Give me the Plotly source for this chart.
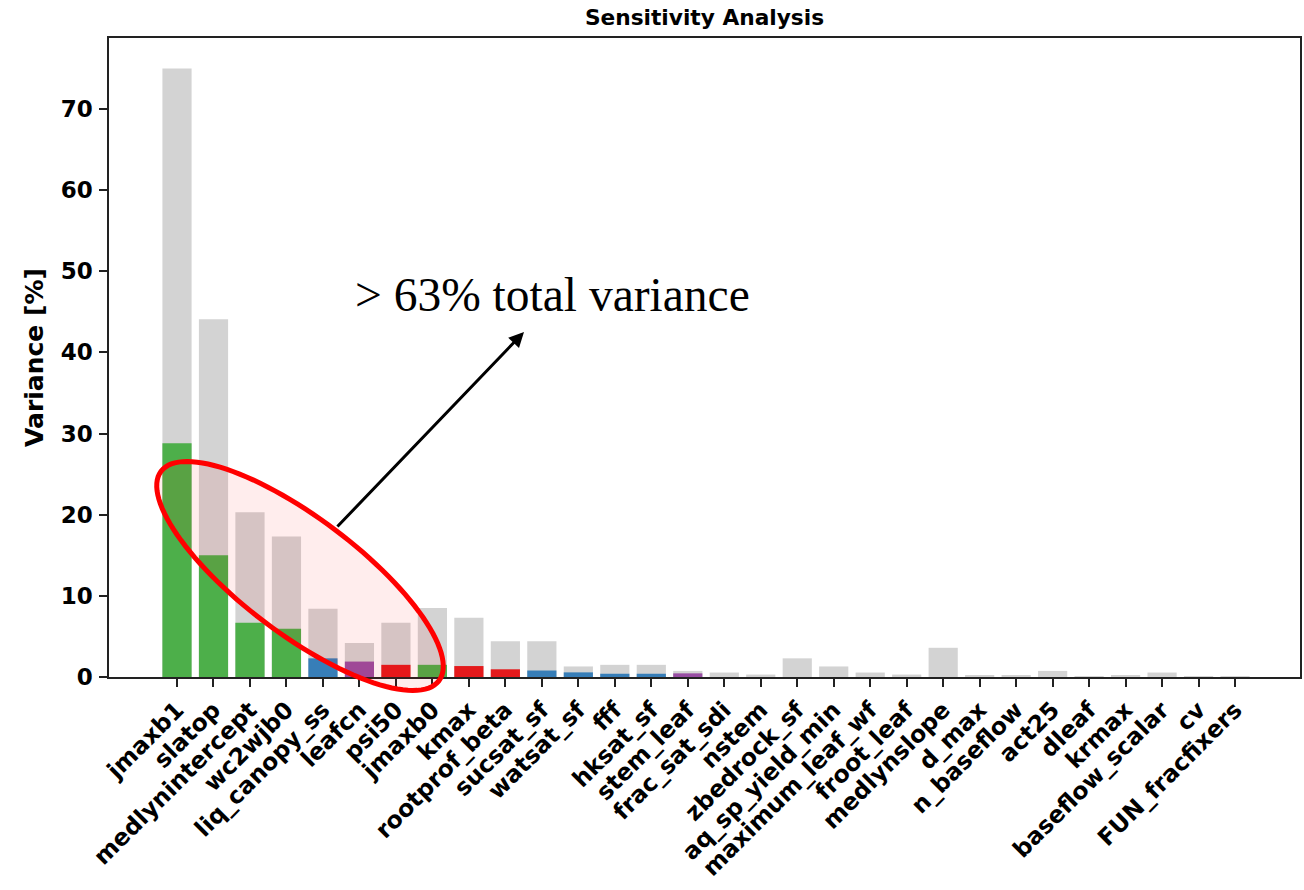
import numpy as np
import plotly.graph_objects as go

# ---------------- data ----------------
params = ["jmaxb1", "slatop", "medlynintercept", "wc2wjb0", "liq_canopy_ss", "leafcn",
          "psi50", "jmaxb0", "kmax", "rootprof_beta", "sucsat_sf", "watsat_sf", "fff",
          "hksat_sf", "stem_leaf", "frac_sat_sdi", "nstem", "zbedrock_sf",
          "aq_sp_yield_min", "maximum_leaf_wf", "froot_leaf", "medlynslope", "d_max",
          "n_baseflow", "act25", "dleaf", "krmax", "baseflow_scalar", "cv", "FUN_fracfixers"]
total_variance = [75.0, 44.1, 20.3, 17.3, 8.4, 4.2, 6.7, 8.5, 7.3, 4.4, 4.4, 1.3, 1.5,
                  1.5, 0.75, 0.55, 0.3, 2.3, 1.3, 0.55, 0.3, 3.6, 0.25, 0.25, 0.75,
                  0.1, 0.25, 0.55, 0.05, 0.05]
first_order = [28.8, 15.0, 6.7, 5.95, 2.3, 1.9, 1.5, 1.5, 1.35, 0.95, 0.8, 0.57, 0.4,
               0.4, 0.45, 0.0, 0.0, 0.0, 0.0, 0.0, 0.0, 0.0, 0.0, 0.0, 0.0,
               0.0, 0.0, 0.0, 0.0, 0.0]
groups = ["photosynthesis", "photosynthesis", "photosynthesis", "photosynthesis",
          "hydrology", "allocation", "hydraulics", "photosynthesis", "hydraulics",
          "hydraulics", "hydrology", "hydrology", "hydrology", "hydrology", "allocation",
          "hydrology", "allocation", "hydrology", "hydrology", "hydrology", "allocation",
          "photosynthesis", "hydrology", "hydrology", "photosynthesis", "photosynthesis",
          "hydraulics", "hydrology", "photosynthesis", "allocation"]
y_ticks = [0, 10, 20, 30, 40, 50, 60, 70]
title_text = "Sensitivity Analysis"
y_title = "Variance [%]"
note_text = "> 63% total variance"

# ---------------- style ----------------
group_colors = {"photosynthesis": "#4daf4a", "hydrology": "#377eb8",
                "allocation": "#984ea3", "hydraulics": "#e41a1c"}
W, H = 1304, 890
L, R, T, B = 109, 1300, 38, 677  # plot area in pixels
x_range = [-1.864, 30.78]
y_range = [0, 78.75]

x = list(range(len(params)))
fig = go.Figure()
fig.add_trace(go.Bar(x=x, y=total_variance, width=0.8, marker_color="#d3d3d3",
                     marker_line_width=0, hoverinfo="skip", showlegend=False))
fig.add_trace(go.Bar(x=x, y=first_order, width=0.8,
                     marker_color=[group_colors[g] for g in groups],
                     marker_line_width=0, hoverinfo="skip", showlegend=False))

font_b = dict(family="DejaVu Sans", weight="bold", color="black")

fig.update_layout(
    width=W, height=H, barmode="overlay",
    margin=dict(l=L, r=W - R, t=T, b=H - B, autoexpand=False),
    plot_bgcolor="white", paper_bgcolor="white",
    title=dict(text=title_text, font=dict(size=21.7, **font_b), x=(L + R) / 2 / W,
               xanchor="center", y=1 - 17 / H, yanchor="middle"),
    xaxis=dict(range=x_range, tickmode="array", tickvals=x, ticktext=params,
               tickangle=-45, tickfont=dict(size=23.5, **font_b), ticks="outside",
               ticklen=8, tickwidth=1.5, tickcolor="#222", showgrid=False,
               zeroline=False, showline=True, linecolor="#222", linewidth=1.5,
               mirror=True, ticklabelstandoff=0, automargin=False),
    yaxis=dict(range=y_range, tickmode="array", tickvals=y_ticks,
               tickfont=dict(size=23, **font_b), ticks="outside", ticklen=8,
               tickwidth=1.5, tickcolor="#222", showgrid=False, zeroline=False,
               showline=True, linecolor="#222", linewidth=1.5, mirror=True,
               ticklabelstandoff=2, automargin=False,
               title=dict(text=y_title, font=dict(size=25, **font_b), standoff=10)),
)

# ellipse highlight (pixel geometry -> paper coords)
cx, cy, a, b, ang = 300, 576, 174, 58, np.deg2rad(37)
t = np.linspace(0, 2 * np.pi, 121)
px = cx + a * np.cos(t) * np.cos(ang) - b * np.sin(t) * np.sin(ang)
py = cy + a * np.cos(t) * np.sin(ang) + b * np.sin(t) * np.cos(ang)
xp = (px - L) / (R - L)
yp = (B - py) / (B - T)
path = "M " + " L ".join(f"{u:.5f},{v:.5f}" for u, v in zip(xp, yp)) + " Z"
fig.add_shape(type="path", path=path, xref="paper", yref="paper",
              line=dict(color="#ff0000", width=5), fillcolor="rgba(255,0,0,0.07)",
              layer="above")

# arrow
tip = (524, 332)
tail = (336, 528)
fig.add_annotation(x=(tip[0] - L) / (R - L), y=(B - tip[1]) / (B - T), xref="paper",
                   yref="paper", ax=tail[0] - tip[0], ay=tail[1] - tip[1],
                   axref="pixel", ayref="pixel", showarrow=True, arrowhead=2,
                   arrowsize=1.0, arrowwidth=3, arrowcolor="black", text="")
# note text
fig.add_annotation(x=(552 - L) / (R - L), y=(B - 295) / (B - T), xref="paper",
                   yref="paper", text=note_text, showarrow=False, xanchor="center",
                   yanchor="middle",
                   font=dict(family="Liberation Serif", size=47.5, color="black"))

fig.write_html("out.html")
